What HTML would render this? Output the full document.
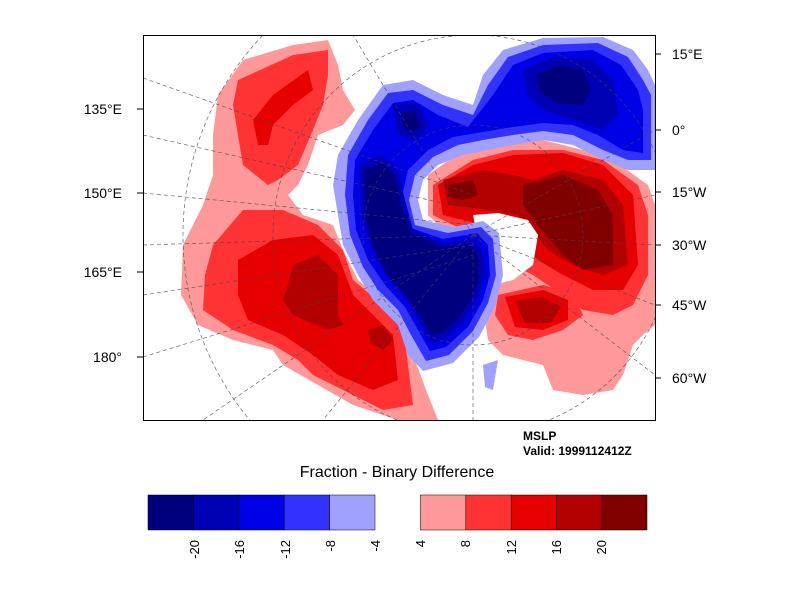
<!DOCTYPE html>
<html><head><meta charset="utf-8"><style>
body{margin:0;background:#fff}
svg{display:block;font-family:"Liberation Sans",sans-serif}
</style></head><body>
<svg width="792" height="612" viewBox="0 0 792 612">
<defs><clipPath id="c"><rect x="0" y="0" width="512" height="385"/></clipPath></defs>
<g transform="translate(143,35)" clip-path="url(#c)" stroke-linejoin="round">
<polygon fill="#ff9999" points="100,25 150,10 185,5 195,30 200,55 212,75 200,90 175,100 165,130 155,150 145,160 160,180 190,190 200,215 215,245 245,270 265,285 270,320 285,360 295,385 255,385 210,370 175,350 140,330 130,315 90,305 55,290 38,260 40,210 60,170 70,140 70,100 75,60"/>
<polygon fill="#ff3333" points="95,45 150,20 185,15 185,40 180,70 170,95 155,130 135,145 125,150 100,130 95,100 90,70"/>
<polygon fill="#e60000" points="110,85 130,60 165,35 170,55 150,70 130,90 125,110 115,110"/>
<polygon fill="#ff3333" points="70,210 100,175 140,175 175,190 200,215 210,245 240,270 260,290 265,330 270,370 240,375 200,355 170,340 155,325 130,310 90,295 60,275 62,240"/>
<polygon fill="#e60000" points="95,225 130,205 170,200 195,220 210,260 230,280 250,300 255,345 230,355 195,340 170,320 140,300 105,285 95,260"/>
<polygon fill="#b30000" points="150,230 175,220 195,240 195,280 200,290 185,295 150,280 140,265 145,250"/>
<polygon fill="#b30000" points="225,295 240,290 250,305 240,315 228,308"/>
<polygon fill="#ff9999" points="285,140 320,115 360,105 400,105 440,115 470,125 505,150 512,170 512,290 500,300 490,310 480,340 470,355 440,360 410,355 400,330 360,320 345,305 340,270 345,250 350,230 340,210 300,195 285,180"/>
<polygon fill="#ff3333" points="290,150 330,125 370,115 420,115 460,125 495,150 505,180 505,240 490,270 470,280 440,275 420,260 390,240 360,225 355,210 310,190 290,180"/>
<polygon fill="#ff3333" points="355,260 400,250 430,258 440,280 420,295 390,305 365,300 352,280"/>
<polygon fill="#e60000" points="295,150 330,130 370,120 420,118 460,130 490,160 495,230 480,255 450,255 420,240 395,225 370,205 340,190 300,180"/>
<polygon fill="#e60000" points="362,262 400,255 425,265 425,285 400,295 372,292"/>
<polygon fill="#b30000" points="300,145 340,135 370,140 390,145 420,135 460,145 480,170 485,230 460,240 430,230 405,215 375,180 345,175 305,170"/>
<polygon fill="#b30000" points="372,266 400,262 418,272 408,288 382,288"/>
<polygon fill="#800000" points="380,150 420,140 455,155 470,180 470,230 440,235 420,220 395,190 380,170"/>
<polygon fill="#800000" points="305,150 330,145 335,160 320,165 305,162"/>
<polygon fill="#fff" points="330,180 355,178 385,185 395,200 390,230 370,245 350,250 340,230"/>
<polygon fill="#a0a0ff" points="195,120 215,85 240,50 270,45 300,60 330,70 340,40 360,15 400,3 460,2 490,15 505,35 512,50 512,135 485,135 460,125 430,110 400,105 370,110 345,115 320,120 295,130 280,145 275,165 280,185 310,192 340,186 356,198 360,240 352,272 336,302 310,328 280,336 265,320 255,290 230,265 215,240 200,210 195,180 190,150"/>
<polygon fill="#a0a0ff" points="340,330 355,325 350,355 342,352"/>
<polygon fill="#3232ff" points="205,120 225,85 245,58 270,55 300,70 330,80 345,50 365,22 400,10 455,8 485,22 500,45 508,60 508,125 485,125 460,115 430,100 400,96 370,100 340,105 315,110 290,122 272,140 266,165 272,190 305,198 338,192 350,204 353,240 345,268 330,296 306,320 283,326 268,300 255,275 235,255 220,232 207,200 202,160"/>
<polygon fill="#0000e6" points="212,125 230,95 250,68 270,65 295,80 325,92 350,60 370,30 400,18 450,15 478,30 495,55 500,75 500,118 480,115 455,100 430,90 400,88 370,92 340,97 310,102 285,115 265,135 258,165 265,192 300,204 334,198 345,210 347,240 340,265 325,292 303,312 287,316 275,295 262,272 242,250 225,225 213,195 210,160"/>
<polygon fill="#0000b4" points="216,130 238,120 255,135 262,165 270,195 300,208 330,204 340,215 342,240 335,262 320,288 300,305 288,308 278,290 264,265 246,244 230,218 219,185"/>
<polygon fill="#0000b4" points="250,70 275,68 285,90 275,105 255,100"/>
<polygon fill="#0000b4" points="380,35 410,22 450,25 470,45 475,80 460,95 430,85 400,75 385,60"/>
<polygon fill="#00007f" points="221,135 240,128 252,140 258,170 268,198 300,212 328,210 336,222 336,245 328,265 314,285 298,298 288,300 278,282 262,260 244,240 232,215 223,185"/>
<polygon fill="#00007f" points="258,78 272,76 278,92 268,98 260,92"/>
<polygon fill="#00007f" points="393,40 415,30 440,35 448,55 440,70 415,68 398,58"/>
<g stroke="#444" stroke-width="0.7" stroke-dasharray="4,3" fill="none" opacity="0.8">
<line x1="0" y1="43" x2="330" y2="160"/>
<line x1="0" y1="100" x2="330" y2="175"/>
<line x1="0" y1="158" x2="330" y2="190"/>
<line x1="0" y1="210" x2="330" y2="200"/>
<line x1="0" y1="260" x2="330" y2="210"/>
<line x1="0" y1="322" x2="330" y2="220"/>
<line x1="330" y1="200" x2="512" y2="95"/>
<line x1="330" y1="200" x2="512" y2="160"/>
<line x1="330" y1="200" x2="512" y2="210"/>
<line x1="330" y1="200" x2="512" y2="270"/>
<line x1="330" y1="200" x2="512" y2="340"/>
<line x1="330" y1="200" x2="210" y2="0"/>
<line x1="330" y1="200" x2="60" y2="385"/>
<line x1="330" y1="200" x2="180" y2="385"/>
<line x1="330" y1="200" x2="330" y2="385"/>
<circle cx="330" cy="200" r="110"/>
<circle cx="330" cy="200" r="200"/>
<circle cx="330" cy="200" r="290"/>
</g>
</g>
<rect x="143.5" y="35.5" width="512" height="385" fill="none" stroke="#000" stroke-width="1"/>
<g font-size="14" fill="#000">
<text x="122" y="114" text-anchor="end">135°E</text>
<text x="122" y="198" text-anchor="end">150°E</text>
<text x="122" y="277" text-anchor="end">165°E</text>
<text x="122" y="362" text-anchor="end">180°</text>
<text x="672" y="59">15°E</text>
<text x="672" y="135">0°</text>
<text x="672" y="197">15°W</text>
<text x="672" y="250">30°W</text>
<text x="672" y="310">45°W</text>
<text x="672" y="383">60°W</text>
</g>
<g stroke="#000"><line x1="655" y1="54" x2="661" y2="54"/><line x1="655" y1="130" x2="661" y2="130"/><line x1="655" y1="192" x2="661" y2="192"/><line x1="655" y1="245" x2="661" y2="245"/><line x1="655" y1="305" x2="661" y2="305"/><line x1="655" y1="378" x2="661" y2="378"/>
<line x1="137" y1="109" x2="143" y2="109"/><line x1="137" y1="193" x2="143" y2="193"/><line x1="137" y1="272" x2="143" y2="272"/><line x1="137" y1="357" x2="143" y2="357"/></g>
<text x="523" y="440" font-size="12" font-weight="bold">MSLP</text>
<text x="523" y="455" font-size="12" font-weight="bold">Valid: 1999112412Z</text>
<text x="397" y="477" font-size="16" text-anchor="middle">Fraction - Binary Difference</text>
<g stroke="#000" stroke-width="0.5">
<rect x="148" y="495" width="45.4" height="35" fill="#00007f"/>
<rect x="193.4" y="495" width="45.4" height="35" fill="#0000b4"/>
<rect x="238.8" y="495" width="45.4" height="35" fill="#0000e6"/>
<rect x="284.2" y="495" width="45.4" height="35" fill="#3232ff"/>
<rect x="329.6" y="495" width="45.4" height="35" fill="#a0a0ff"/>
<rect x="420.4" y="495" width="45.4" height="35" fill="#ff9999"/>
<rect x="465.8" y="495" width="45.4" height="35" fill="#ff3333"/>
<rect x="511.2" y="495" width="45.4" height="35" fill="#e60000"/>
<rect x="556.6" y="495" width="45.4" height="35" fill="#b30000"/>
<rect x="602" y="495" width="45" height="35" fill="#800000"/>
</g>
<g font-size="13" text-anchor="end">
<text transform="translate(199,540) rotate(-90)">-20</text>
<text transform="translate(244,540) rotate(-90)">-16</text>
<text transform="translate(290,540) rotate(-90)">-12</text>
<text transform="translate(335,540) rotate(-90)">-8</text>
<text transform="translate(380,540) rotate(-90)">-4</text>
<text transform="translate(425,540) rotate(-90)">4</text>
<text transform="translate(470,540) rotate(-90)">8</text>
<text transform="translate(516,540) rotate(-90)">12</text>
<text transform="translate(561,540) rotate(-90)">16</text>
<text transform="translate(606,540) rotate(-90)">20</text>
</g>
</svg>
</body></html>
